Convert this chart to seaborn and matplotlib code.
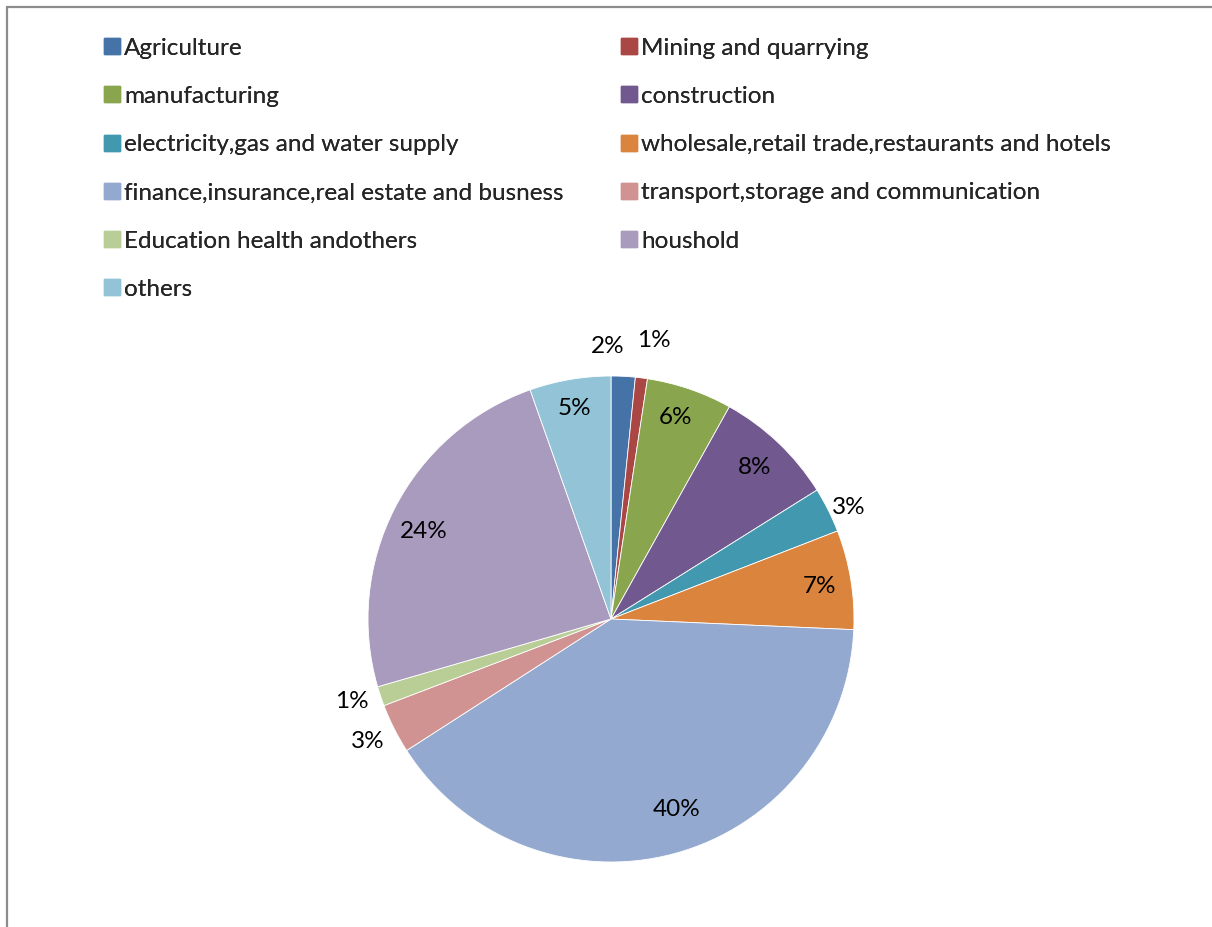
import numpy as np
import matplotlib
matplotlib.use("Agg")
import matplotlib.pyplot as plt
from matplotlib.lines import Line2D
import seaborn as sns

# Sector shares of the total (percent), clockwise from 12 o'clock
sectors = [
    "Agriculture",
    "Mining and quarrying",
    "manufacturing",
    "construction",
    "electricity,gas and water supply",
    "wholesale,retail trade,restaurants and hotels",
    "finance,insurance,real estate and busness",
    "transport,storage and communication",
    "Education health andothers",
    "houshold",
    "others",
]
shares = [1.6, 0.8, 5.7, 8.0, 3.0, 6.6, 40.2, 3.3, 1.3, 24.1, 5.4]

colors = ["#4572A7", "#AA4643", "#89A54E", "#71588F", "#4198AF", "#DB843D",
          "#93A9CF", "#D19392", "#B9CD96", "#A99BBD", "#92C3D6"]

# label placement: radial distance (in radii) and small angular nudge (deg)
label_radius = [1.12, 1.16, 0.87, 0.86, 1.08, 0.87, 0.83, 1.12, 1.12, 0.85, 0.88]
label_nudge = [-3.5, 1.5, -1.0, 0.0, 1.5, 0.5, -4.0, 0.0, 1.0, -2.0, 0.0]

sns.set_theme(style="white")
plt.rcParams["font.family"] = ["Lato", "DejaVu Sans"]
FS = 17.5

W, H = 1212, 927
fig = plt.figure(figsize=(W / 100, H / 100), dpi=100)
fig.patch.set_facecolor("white")

# pie axes: centre at (611, 619) px, radius 243 px
cx, cy, r = 611, 619, 243
span = 1.4
ax = fig.add_axes([(cx - r * span) / W, (H - cy - r * span) / H,
                   2 * r * span / W, 2 * r * span / H])

wedges, _, pcts = ax.pie(
    shares, colors=colors, startangle=90, counterclock=False,
    autopct=lambda p: f"{p:.0f}%", pctdistance=0.85,
    wedgeprops=dict(edgecolor="white", linewidth=0.6),
    textprops=dict(fontsize=FS, color="black"),
)
ax.set_xlim(-span, span)
ax.set_ylim(-span, span)
ax.set_aspect("equal")
ax.axis("off")

for w, t, rr, dn in zip(wedges, pcts, label_radius, label_nudge):
    mid = np.deg2rad((w.theta1 + w.theta2) / 2 - dn)
    t.set_position((rr * np.cos(mid), rr * np.sin(mid)))
    t.set_ha("center")
    t.set_va("center")

# legend in two row-ordered columns
handles = [Line2D([0], [0], marker="s", linestyle="none", markersize=11,
                  markerfacecolor=c, markeredgecolor=c) for c in colors]
left_idx = list(range(0, len(sectors), 2))
right_idx = list(range(1, len(sectors), 2))
for idx, x0 in ((left_idx, 94), (right_idx, 611)):
    leg = fig.legend([handles[i] for i in idx], [sectors[i] for i in idx],
                     loc="upper left", bbox_to_anchor=(x0 / W, 1 - 28 / H),
                     frameon=False, fontsize=FS, handlelength=0.7,
                     handletextpad=0.15, labelspacing=1.12, borderaxespad=0)
    fig.add_artist(leg)

# outer frame (left and top edges visible)
fig.add_artist(Line2D([6.5 / W, 6.5 / W], [0, 1 - 6.5 / H], color="#8c8c8c",
                      lw=1.6, transform=fig.transFigure))
fig.add_artist(Line2D([6.5 / W, 1], [1 - 6.5 / H, 1 - 6.5 / H], color="#8c8c8c",
                      lw=1.6, transform=fig.transFigure))

fig.savefig("out.png", dpi=100, facecolor="white")
